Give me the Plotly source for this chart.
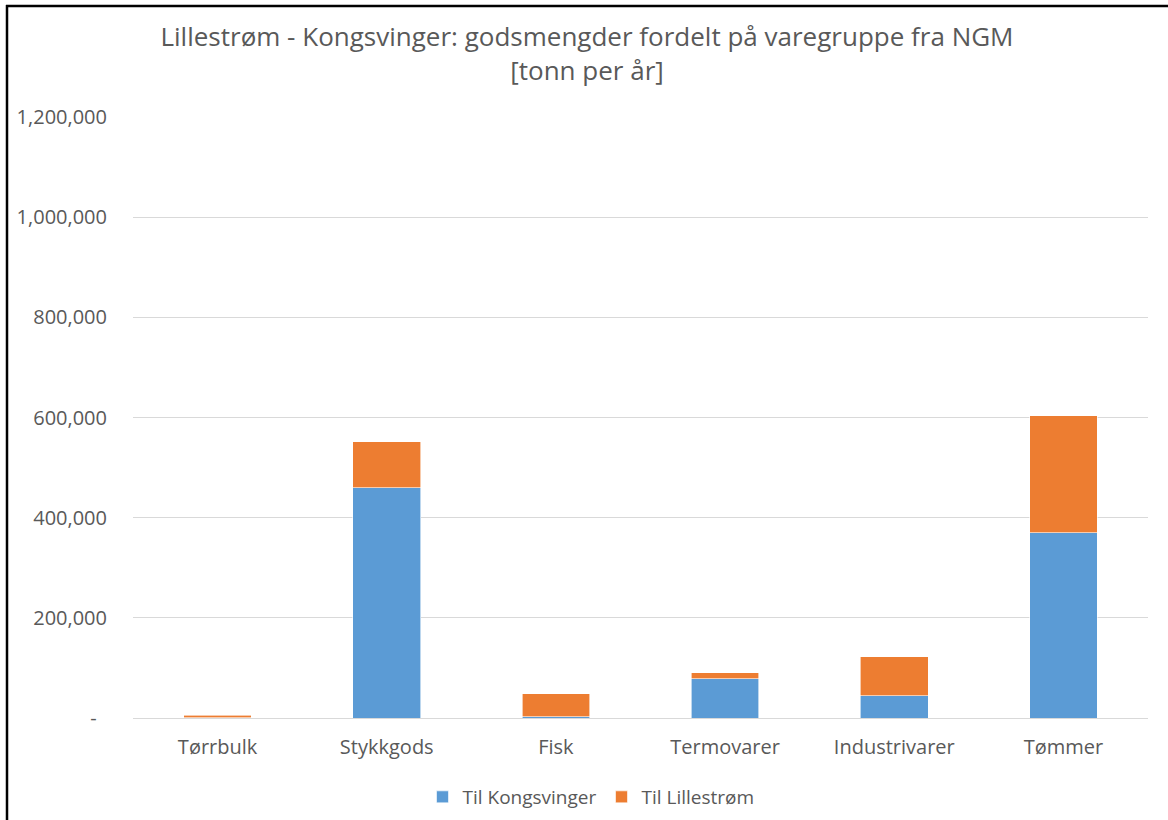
import plotly.graph_objects as go

categories = ["Tørrbulk", "Stykkgods", "Fisk", "Termovarer", "Industrivarer", "Tømmer"]
til_kongsvinger = [1000, 460000, 3000, 78000, 44000, 370000]
til_lillestrom = [5000, 92000, 45000, 12000, 78000, 234000]
tick_vals = [0, 200000, 400000, 600000, 800000, 1000000, 1200000]
tick_text = ["-\u00a0\u00a0", "200,000", "400,000", "600,000", "800,000", "1,000,000", "1,200,000"]

FONT = "Open Sans, Liberation Sans, sans-serif"
GRAY = "#595959"

fig = go.Figure()
fig.add_trace(go.Bar(x=categories, y=til_kongsvinger, name="Til Kongsvinger",
                     marker=dict(color="#5b9bd5", line=dict(color="white", width=0.6))))
fig.add_trace(go.Bar(x=categories, y=til_lillestrom, name="Til Lillestrøm",
                     marker=dict(color="#ed7d31", line=dict(color="white", width=0.6))))

W, H = 1168, 820
L, R, T, B = 133, 20, 117, 102
pw, ph = W - L - R, H - T - B

def px_x(p):
    return (p - L) / pw

def px_y(p):
    return (H - B - p) / ph

border = dict(color="black", width=2.5)

fig.update_layout(
    width=W, height=H,
    barmode="stack", bargap=0.6,
    margin=dict(l=L, r=R, t=T, b=B, autoexpand=False),
    plot_bgcolor="white", paper_bgcolor="white",
    font=dict(family=FONT, color=GRAY, size=20),
    title=dict(text="Lillestrøm - Kongsvinger: godsmengder fordelt på varegruppe fra NGM<br>[tonn per år]",
               x=587 / W, xanchor="center", xref="container",
               y=1 - 46 / H, yref="container", yanchor="middle",
               font=dict(size=26, color=GRAY, family=FONT)),
    xaxis=dict(showgrid=False, showline=False, ticks="", ticklabelstandoff=15,
               tickfont=dict(size=20, color=GRAY)),
    yaxis=dict(range=[0, 1200000], tickvals=tick_vals, ticktext=tick_text,
               showgrid=True, gridcolor="#d9d9d9", gridwidth=1, zeroline=True,
               zerolinecolor="#d9d9d9", zerolinewidth=1, showline=False, ticks="",
               ticklabelstandoff=25,
               tickfont=dict(size=20, color=GRAY)),
    legend=dict(orientation="h", x=591 / W, xanchor="center", xref="container",
                y=1 - 797 / H, yref="container", yanchor="middle",
                font=dict(size=19, color=GRAY), traceorder="normal"),
    shapes=[
        dict(type="line", xref="paper", yref="paper",
             x0=px_x(7), x1=px_x(7), y0=px_y(822), y1=px_y(5), line=border),
        dict(type="line", xref="paper", yref="paper",
             x0=px_x(6), x1=px_x(1170), y0=px_y(6), y1=px_y(6), line=border),
    ],
)

fig.write_html("out.html", config={"displayModeBar": False},
               post_script="document.body.style.margin='0';")
